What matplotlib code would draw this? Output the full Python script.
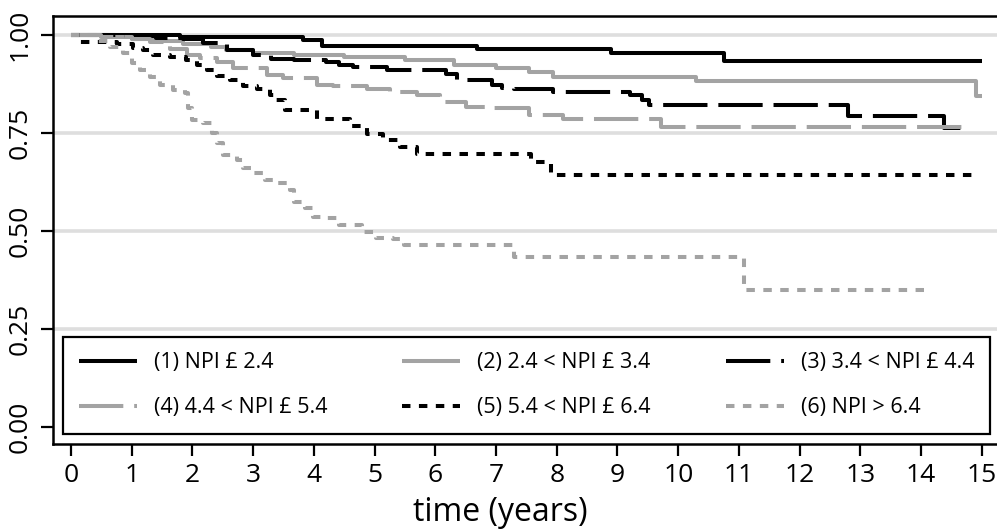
import matplotlib
matplotlib.use("Agg")
import matplotlib.pyplot as plt
from matplotlib.lines import Line2D

plt.rcParams['font.family'] = ['Open Sans', 'DejaVu Sans']

# survival curves (step, post)
t1 = [0, 1.8, 3.82, 4.13, 6.68, 8.9, 10.76, 15.0]
s1 = [1.0, 0.995, 0.988, 0.973, 0.964, 0.953, 0.933, 0.933]

t2 = [0, 0.6, 1.0, 1.5, 1.85, 2.3, 2.56, 3.0, 3.68, 4.5, 5.5, 6.3, 7.0, 7.55, 7.93, 10.3, 14.9, 15.0]
s2 = [1.0, 0.995, 0.99, 0.984, 0.978, 0.97, 0.962, 0.955, 0.949, 0.944, 0.936, 0.923, 0.915, 0.905, 0.892, 0.883, 0.844, 0.844]

t3 = [0, 0.9, 1.4, 1.84, 2.17, 2.57, 3.0, 3.3, 3.68, 4.2, 4.42, 4.64, 5.2, 6.18, 6.35, 6.94, 7.1, 7.3, 7.93, 9.2, 9.4, 9.52, 12.8, 14.37, 14.82]
s3 = [1.0, 0.997, 0.993, 0.989, 0.979, 0.962, 0.949, 0.94, 0.935, 0.93, 0.923, 0.918, 0.91, 0.901, 0.885, 0.872, 0.866, 0.861, 0.855, 0.847, 0.834, 0.821, 0.793, 0.762, 0.762]

t4 = [0, 0.5, 1.0, 1.3, 1.63, 1.91, 2.12, 2.4, 2.66, 3.22, 3.49, 4.05, 4.31, 4.87, 5.25, 5.69, 6.07, 6.51, 6.94, 7.55, 8.1, 9.72, 14.8]
s4 = [1.0, 0.995, 0.99, 0.983, 0.964, 0.949, 0.941, 0.932, 0.915, 0.898, 0.890, 0.872, 0.870, 0.861, 0.855, 0.847, 0.830, 0.816, 0.813, 0.796, 0.785, 0.765, 0.765]

t5 = [0, 0.15, 0.75, 1.02, 1.18, 1.35, 1.63, 1.9, 2.07, 2.24, 2.4, 2.62, 2.83, 3.06, 3.27, 3.38, 3.52, 4.05, 4.59, 4.87, 5.13, 5.41, 5.69, 7.58, 7.9, 14.95]
s5 = [1.0, 0.983, 0.978, 0.966, 0.962, 0.949, 0.945, 0.936, 0.923, 0.911, 0.895, 0.885, 0.870, 0.861, 0.847, 0.834, 0.808, 0.787, 0.768, 0.747, 0.732, 0.715, 0.696, 0.677, 0.643, 0.643]

t6 = [0, 0.45, 0.64, 0.86, 1.0, 1.13, 1.3, 1.46, 1.68, 1.88, 1.93, 2.0, 2.17, 2.32, 2.4, 2.5, 2.73, 2.83, 3.0, 3.19, 3.4, 3.6, 3.68, 3.85, 3.98, 4.21, 4.42, 4.8, 5.03, 5.3, 5.49, 7.3, 11.09, 14.05]
s6 = [1.0, 0.985, 0.97, 0.953, 0.928, 0.911, 0.894, 0.872, 0.860, 0.851, 0.813, 0.783, 0.775, 0.749, 0.724, 0.694, 0.681, 0.66, 0.647, 0.630, 0.622, 0.605, 0.575, 0.558, 0.536, 0.532, 0.515, 0.498, 0.481, 0.479, 0.464, 0.434, 0.349, 0.349]

labels = ["(1) NPI £ 2.4", "(2) 2.4 < NPI £ 3.4", "(3) 3.4 < NPI £ 4.4",
          "(4) 4.4 < NPI £ 5.4", "(5) 5.4 < NPI £ 6.4", "(6) NPI > 6.4"]
xticks = list(range(0, 16))
yticks = [0.0, 0.25, 0.5, 0.75, 1.0]
ytick_labels = ["0.00", "0.25", "0.50", "0.75", "1.00"]

black = "black"
gray = "#a3a3a3"
lw = 2.9
long_dash = (11.0, 2.7)
short_dash = (2.1, 2.1)
styles = [
    dict(color=black, dashes=()),
    dict(color=gray, dashes=()),
    dict(color=black, dashes=long_dash),
    dict(color=gray, dashes=long_dash),
    dict(color=black, dashes=short_dash),
    dict(color=gray, dashes=short_dash),
]
curves = [(t1, s1), (t2, s2), (t3, s3), (t4, s4), (t5, s5), (t6, s6)]

fig = plt.figure(figsize=(9.97, 5.32), dpi=100)
ax = fig.add_axes([53 / 997, 88 / 532, 947 / 997, 428 / 532])

for y in [0.25, 0.5, 0.75, 1.0]:
    ax.axhline(y, color="#dedede", lw=2.6, zorder=1)

handles = []
for (t, s), st, lab in zip(curves, styles, labels):
    line, = ax.step(t, s, where="post", color=st["color"], lw=lw, zorder=3,
                    solid_capstyle="butt", dash_capstyle="butt")
    if st["dashes"]:
        line.set_dashes(st["dashes"])
    h = Line2D([], [], color=st["color"], lw=lw, solid_capstyle="butt", dash_capstyle="butt")
    if st["dashes"]:
        h.set_dashes(st["dashes"])
    handles.append(h)

ax.set_xlim(-0.297, 15.30)
ax.set_ylim(-0.0434, 1.0485)
ax.set_xticks(xticks)
ax.set_yticks(yticks)
ax.set_yticklabels(ytick_labels, rotation=90, va="center")
ax.tick_params(axis="both", direction="out", length=8.5, width=1.6, labelsize=19, color="black")
ax.tick_params(axis="x", pad=5)
ax.tick_params(axis="y", pad=6)
for sp in ax.spines.values():
    sp.set_linewidth(1.8)
ax.spines["right"].set_visible(False)

ax.set_xlabel("time (years)", fontsize=23)
ax.xaxis.set_label_coords((500 - 53) / 947, -0.122)

order = [0, 3, 1, 4, 2, 5]
leg = ax.legend([handles[i] for i in order], [labels[i] for i in order], ncol=3,
                loc="lower left", bbox_to_anchor=(63 / 997, 98 / 532, 927 / 997, 0.2),
                bbox_transform=fig.transFigure, mode="expand", fontsize=15.5,
                handlelength=2.7, handletextpad=0.8, labelspacing=1.12, borderpad=0.72,
                frameon=True, fancybox=False, framealpha=1, edgecolor="black",
                borderaxespad=0)
leg.get_frame().set_linewidth(1.6)
leg.set_zorder(5)

fig.savefig("out.png", dpi=100, facecolor="white")
